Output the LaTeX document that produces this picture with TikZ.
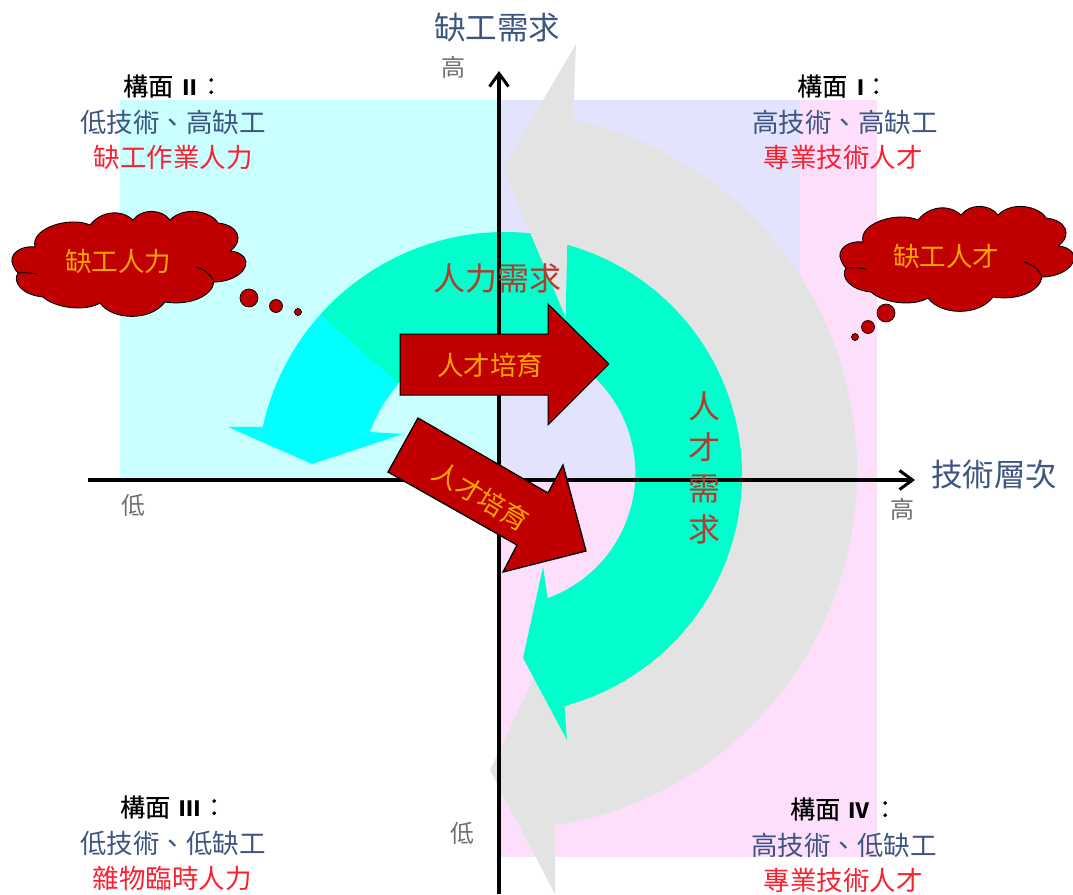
\documentclass[tikz,border=0pt]{standalone}
\usepackage{fontspec}
\setmainfont{Noto Sans CJK TC}
\newfontfamily\semifont[FakeBold=0.4]{Noto Sans CJK TC}
\usetikzlibrary{arrows.meta,calc}
\definecolor{bgcyan}{HTML}{C9FFFF}
\definecolor{bglav}{HTML}{E3E3FD}
\definecolor{bgpink}{HTML}{FDDFFC}
\definecolor{mint}{HTML}{00FFCC}
\definecolor{aqua}{HTML}{00FFFF}
\definecolor{greyarrow}{HTML}{E3E3E3}
\definecolor{redfill}{HTML}{C00000}
\definecolor{navytxt}{HTML}{3D5580}
\definecolor{orangetxt}{HTML}{FFA500}
\definecolor{brick}{HTML}{B23A2E}
\definecolor{greytxt}{HTML}{6E6E6E}
\definecolor{redlabel}{HTML}{FA2030}
\tikzset{
  fs/.style={font=\fontsize{#1}{#1}\selectfont},
  axisline/.style={line width=3.2pt,black,-{Straight Barb[length=13pt,width=19pt,line width=3pt]}},
  redshape/.style={fill=redfill,draw=black,line width=1pt,line join=miter},
  toptxt/.style={fs=25,black,inner sep=0pt,anchor=west},
  navy/.style={fs=26.5,navytxt,inner sep=0pt},
  redtxt/.style={fs=26.5,redlabel,inner sep=0pt},
  axtitle/.style={fs=31.5,navytxt,inner sep=0pt},
  lowhigh/.style={fs=24,greytxt,inner sep=0pt},
  onred/.style={fs=26.5,orangetxt,inner sep=0pt},
  brickt/.style={fs=32,brick,inner sep=0pt},
  dot/.style={circle,fill=redfill,draw=black,line width=0.7pt,inner sep=0pt},
}
% header: 構面, then numeral centred X from the start, colon centred Y from the start
\newcommand{\hdr}[3]{\hbox to 110pt{{\semifont 構面}\hspace*{\dimexpr#2pt-50pt\relax}\makebox[0pt]{\fontsize{21}{21}\selectfont\bfseries #1}\hspace*{\dimexpr#3pt-#2pt\relax}\makebox[0pt]{\semifont ：}\hfill}}
\newcommand{\cloudshape}{
  \fill[redfill,draw=black,line width=0.9pt]
    (35,247) .. controls (20,245) and (8,255) .. (13,265)
    .. controls (15,270) and (17,272) .. (18,273)
    .. controls (12,282) and (22,295) .. (43,297)
    .. controls (55,308) and (85,312) .. (100,303)
    .. controls (112,320) and (150,322) .. (165,302)
    .. controls (190,306) and (212,296) .. (214,282)
    .. controls (235,282) and (252,268) .. (244,257)
    .. controls (240,253) and (235,251) .. (230,251)
    .. controls (245,240) and (238,225) .. (218,223)
    .. controls (212,212) and (185,205) .. (170,220)
    .. controls (162,209) and (142,208) .. (133,220)
    .. controls (120,208) and (100,212) .. (90,225)
    .. controls (70,216) and (30,228) .. cycle;
  \draw[black,line width=0.9pt] (18,273) .. controls (24,272) and (32,273) .. (38,274);
  \draw[black,line width=0.9pt] (196,267) .. controls (204,269) and (212,275) .. (214,282);
}
\begin{document}
\begin{tikzpicture}[x=1pt,y=-1pt]
\useasboundingbox (0,0) rectangle (1073,894);
% quadrant backgrounds
\fill[bgcyan] (120,100) rectangle (499,480);
\fill[bglav] (499,100) rectangle (800,480);
\fill[bgpink] (800,100) rectangle (877,480);
\fill[bgpink] (499,480) rectangle (877,857);
\coordinate (c1) at (505,480);
\coordinate (c2) at (503,475);
% upper curved arrow: mint part
\fill[mint] ($(c1)+(65:248pt)$) arc[start angle=65,end angle=138.2,radius=248pt]
  -- ($(c1)+(138.2:144pt)$) arc[start angle=138.2,end angle=65,radius=144pt] -- cycle;
% aqua head of the upper arrow
\fill[aqua] ($(c1)+(138.2:248pt)$) arc[start angle=138.2,end angle=167.6,radius=248pt]
  -- (228,427) -- (312,464) -- (403,434) -- (370,432)
  arc[start angle=160.4,end angle=138.2,radius=144pt] -- cycle;
% large grey curved arrow
\fill[greyarrow] (576,44) -- (573,120)
  arc[start angle=78.6,end angle=-81.55,x radius=354pt,y radius=358pt]
  -- (555,894) -- (490,770) -- (533,680) -- ($(c2)+(-72:180pt)$)
  arc[start angle=-72,end angle=68,radius=180pt] -- (566,318) -- (503,168) -- cycle;
% mint curved arrow on the right
\fill[mint] ($(c2)+(74.4:239pt)$) arc[start angle=74.4,end angle=-75.1,radius=239pt]
  -- (567,740) -- (523,658) -- (543,567) -- ($(c2)+(-70:131pt)$)
  arc[start angle=-70,end angle=62,radius=133pt] -- cycle;
% axes
\coordinate (xs) at (88,480);
\coordinate (xe) at (915,480);
\coordinate (ys) at (499,894);
\coordinate (ye) at (499,71);
\draw[axisline] (xs) -- (xe);
\draw[axisline] (ys) -- (ye);
% red block arrows
\draw[redshape] (400,334) -- (548,334) -- (548,304) -- (609,364) -- (548,425) -- (548,395) -- (400,395) -- cycle;
\draw[redshape,line width=1.3pt] (418,418) -- (548,493) -- (563,465) -- (586,551) -- (503,572) -- (517,545) -- (388,472) -- cycle;
% clouds
\begin{scope}\cloudshape\end{scope}
\begin{scope}[xshift=828pt,yshift=5pt]\cloudshape\end{scope}
\node[dot,minimum size=18pt] (d1) at (249,298) {};
\node[dot,minimum size=13pt] (d2) at (276,306) {};
\node[dot,minimum size=7pt] (d3) at (298,312) {};
\node[dot,minimum size=18pt] (d4) at (886,313) {};
\node[dot,minimum size=13pt] (d5) at (868,327) {};
\node[dot,minimum size=7pt] (d6) at (855,337) {};
% texts
\node[axtitle] (t1) at (497,28) {缺工需求};
\node[axtitle] (t2) at (994,475) {技術層次};
\node[lowhigh] (l1) at (453,67) {高};
\node[lowhigh] (l2) at (133,505) {低};
\node[lowhigh] (l3) at (902,509) {高};
\node[lowhigh] (l4) at (462,833) {低};
\node[toptxt] (a1) at (123,86) {\hdr{Ⅱ}{67}{88}};
\node[navy] (a2) at (173,122) {低技術、高缺工};
\node[redtxt] (a3) at (173,157) {缺工作業人力};
\node[toptxt] (b1) at (797,86) {\hdr{Ⅰ}{64}{79}};
\node[navy] (b2) at (845,122) {高技術、高缺工};
\node[redtxt] (b3) at (843,157) {專業技術人才};
\node[toptxt] (c1t) at (120,807) {\hdr{Ⅲ}{70}{94}};
\node[navy] (c2t) at (173,843) {低技術、低缺工};
\node[redtxt] (c3t) at (172,878) {雜物臨時人力};
\node[toptxt] (d1t) at (790,809) {\hdr{Ⅳ}{69}{95}};
\node[navy] (d2t) at (844,845) {高技術、低缺工};
\node[redtxt] (d3t) at (843,880) {專業技術人才};
\node[onred] (e1) at (118,261) {缺工人力};
\node[onred] (e2) at (946,256) {缺工人才};
\node[brickt] (f1) at (497,278) {人力需求};
\node[onred] (g1) at (490,365) {人才培育};
\node[onred,rotate=-31] (g2) at (481,496) {人才培育};
\node[brickt,align=center,font=\fontsize{32}{41}\selectfont] (f2) at (704,468) {人\\才\\需\\求};
\end{tikzpicture}
\end{document}
